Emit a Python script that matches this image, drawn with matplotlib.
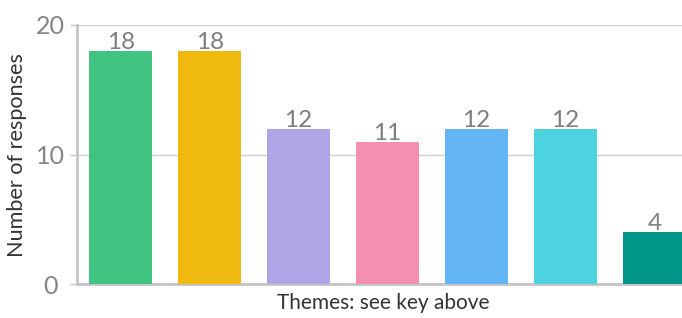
import matplotlib
matplotlib.use("Agg")
import matplotlib.pyplot as plt

categories = ["1", "2", "3", "4", "5", "6", "7"]
values = [18, 18, 12, 11, 12, 12, 4]
colors = ["#41C482", "#F0B90F", "#ADA5E6", "#F48FB1", "#64B5F6", "#4DD3E0", "#009688"]
yticks = [0, 10, 20]

plt.rcParams['font.family'] = ['Lato', 'DejaVu Sans']

W, H = 682, 318
fig = plt.figure(figsize=(W / 100, H / 100), dpi=100)
ax = fig.add_axes([77 / W, (H - 284) / H, (W - 77) / W, (284 - 25) / H])

x = list(range(len(categories)))
ax.bar(x, values, width=0.708, color=colors, zorder=3)
for xi, v in zip(x, values):
    ax.annotate(str(v), (xi, v), xytext=(0, 2), textcoords='offset pixels',
                ha='center', va='baseline', fontsize=17.5, color='#7f7f7f', zorder=4)

ax.set_ylim(0, 20)
ax.set_xlim(-0.49, -0.49 + (W - 77) / 89)
ax.set_yticks(yticks)
ax.set_yticklabels([str(t) for t in yticks], fontsize=18, color='#858585', ha='center')
ax.set_xticks([])
ax.yaxis.grid(True, color='#d0d0d0', linewidth=1, zorder=0)
for s in ['top', 'right']:
    ax.spines[s].set_visible(False)
for s in ['left', 'bottom']:
    ax.spines[s].set_color('#c4c4c8')
    ax.spines[s].set_linewidth(2)
ax.tick_params(axis='y', length=5, width=1, color='#c4c4c8', pad=14.4)

fig.text(17 / W, 1 - 155 / H, "Number of responses", rotation=90, ha='center', va='center',
         fontsize=15.6, color='#333333')
fig.text(383 / W, 1 - 303 / H, "Themes: see key above", ha='center', va='center',
         fontsize=15, color='#333333')

fig.savefig("out.png", dpi=100)
